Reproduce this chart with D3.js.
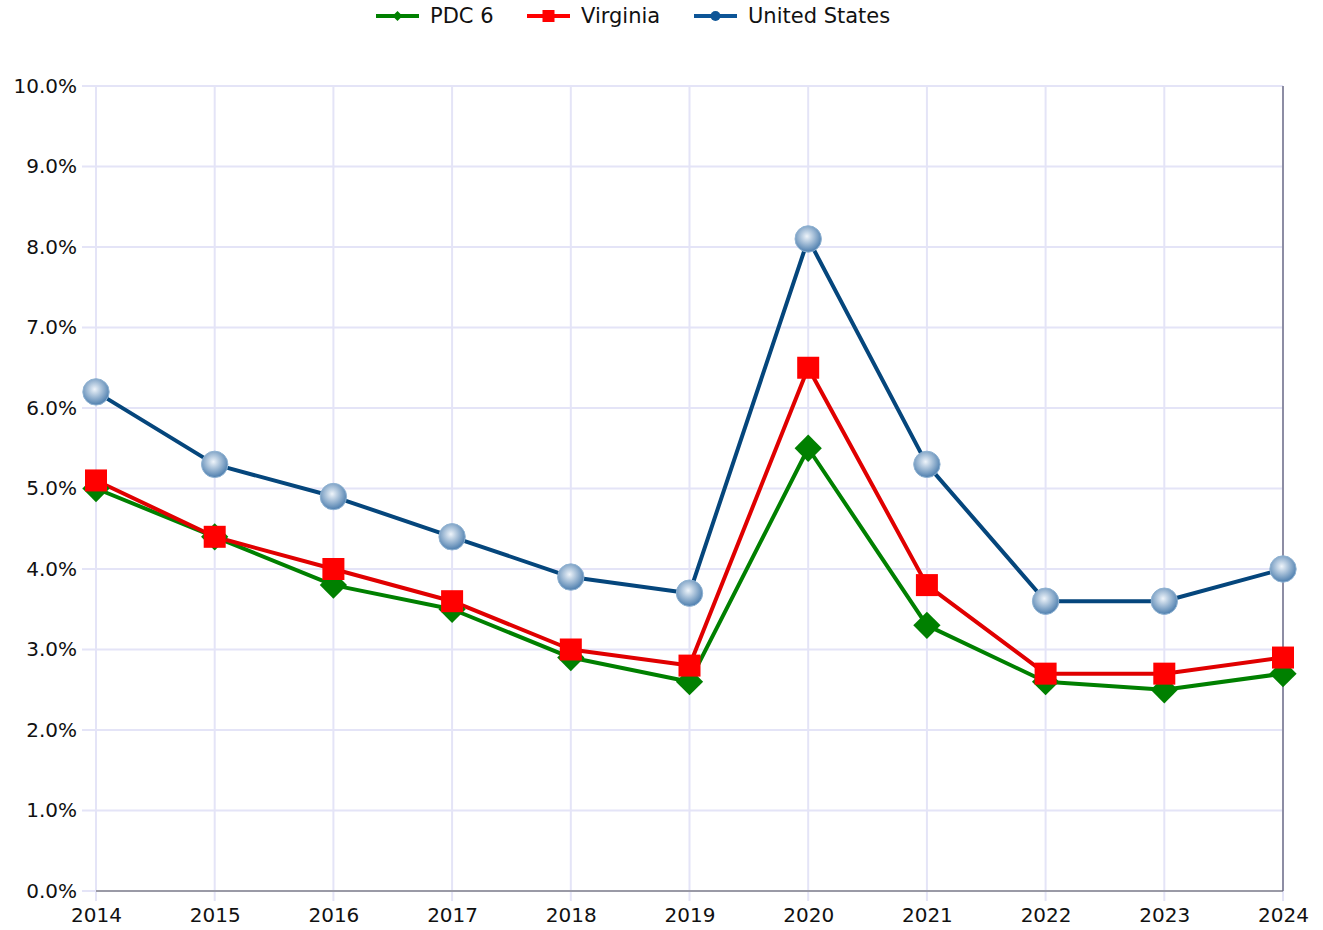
<!DOCTYPE html>
<html>
<head>
<meta charset="utf-8">
<script src="https://cdn.jsdelivr.net/npm/d3@7"></script>
<style>
  body { margin: 0; background: #fff; }
  svg text { font-family: "DejaVu Sans", Verdana, sans-serif; fill: #111; }
</style>
</head>
<body>
<svg id="chart" width="1323" height="930"></svg>
<script>
var years = [2014, 2015, 2016, 2017, 2018, 2019, 2020, 2021, 2022, 2023, 2024];
var pdc6 = [5.0, 4.4, 3.8, 3.5, 2.9, 2.6, 5.5, 3.3, 2.6, 2.5, 2.7];
var virginia = [5.1, 4.4, 4.0, 3.6, 3.0, 2.8, 6.5, 3.8, 2.7, 2.7, 2.9];
var unitedStates = [6.2, 5.3, 4.9, 4.4, 3.9, 3.7, 8.1, 5.3, 3.6, 3.6, 4.0];
var yTicks = [0, 1, 2, 3, 4, 5, 6, 7, 8, 9, 10];

var series = [
    { name: "PDC 6", values: pdc6, line: "#008000", fill: "#008000", shape: "diamond" },
    { name: "Virginia", values: virginia, line: "#e00000", fill: "#ff0000", shape: "square" },
    { name: "United States", values: unitedStates, line: "#05467c", fill: "url(#ball)", shape: "circle" }
];

var svg = d3.select("#chart");
var plotLeft = 96, plotRight = 1283, plotTop = 86, plotBottom = 891;

var x = d3.scaleLinear().domain([2014, 2024]).range([plotLeft, plotRight]);
var y = d3.scaleLinear().domain([0, 10]).range([plotBottom, plotTop]);

var defs = svg.append("defs");
var grad = defs.append("radialGradient").attr("id", "ball")
    .attr("cx", "45%").attr("cy", "40%").attr("r", "60%");
grad.append("stop").attr("offset", "0%").attr("stop-color", "#eef4fa");
grad.append("stop").attr("offset", "100%").attr("stop-color", "#4d7eae");

// grid
var grid = svg.append("g");
grid.selectAll(".hg").data(yTicks.slice(1)).enter().append("line")
    .attr("x1", plotLeft - 14).attr("x2", plotRight)
    .attr("y1", function(d) { return y(d); }).attr("y2", function(d) { return y(d); })
    .attr("stroke", "#e4e4f7").attr("stroke-width", 2);
grid.selectAll(".vg").data(years).enter().append("line")
    .attr("x1", function(d) { return x(d); }).attr("x2", function(d) { return x(d); })
    .attr("y1", plotTop).attr("y2", plotBottom + 10)
    .attr("stroke", "#e4e4f7").attr("stroke-width", 2);
grid.append("line").attr("x1", plotLeft - 14).attr("x2", plotLeft)
    .attr("y1", plotBottom).attr("y2", plotBottom).attr("stroke", "#e4e4f7").attr("stroke-width", 2);
grid.append("line").attr("x1", plotLeft).attr("x2", plotRight)
    .attr("y1", plotBottom).attr("y2", plotBottom).attr("stroke", "#9a9aa6").attr("stroke-width", 2);
grid.append("line").attr("x1", plotRight).attr("x2", plotRight)
    .attr("y1", plotTop).attr("y2", plotBottom).attr("stroke", "#5e5e78").attr("stroke-width", 1.3);

// axes labels
var yAxis = d3.axisLeft(y).tickValues(yTicks).tickSize(0).tickPadding(19)
    .tickFormat(function(d) { return d.toFixed(1) + "%"; });
svg.append("g").attr("transform", "translate(" + plotLeft + ",0)").call(yAxis)
    .call(function(g) { g.select(".domain").remove(); })
    .selectAll("text").style("font-size", "20px").attr("fill", "#111");

var xAxis = d3.axisBottom(x).tickValues(years).tickSize(0).tickPadding(17)
    .tickFormat(d3.format("d"));
svg.append("g").attr("transform", "translate(0," + plotBottom + ")").call(xAxis)
    .call(function(g) { g.select(".domain").remove(); })
    .selectAll("text").style("font-size", "20px").attr("fill", "#111");

function marker(sel, s, size) {
    if (s.shape === "circle") {
        sel.append("circle").attr("r", size * 0.6).attr("fill", s.fill)
            .attr("stroke", "#8fb2d2").attr("stroke-width", 1);
    } else if (s.shape === "square") {
        sel.append("rect").attr("x", -size / 2).attr("y", -size / 2)
            .attr("width", size).attr("height", size).attr("fill", s.fill);
    } else {
        var h = size * 0.62;
        sel.append("path").attr("d", "M0," + (-h) + "L" + h + ",0L0," + h + "L" + (-h) + ",0Z")
            .attr("fill", s.fill);
    }
}

var line = d3.line().x(function(d, i) { return x(years[i]); }).y(function(d) { return y(d); });

series.forEach(function(s) {
    svg.append("path").datum(s.values).attr("d", line)
        .attr("fill", "none").attr("stroke", s.line).attr("stroke-width", 4)
        .attr("stroke-linejoin", "round");
});
series.forEach(function(s) {
    s.values.forEach(function(v, i) {
        var g = svg.append("g").attr("transform", "translate(" + x(years[i]) + "," + y(v) + ")");
        marker(g, s, 22);
    });
});

// legend
var legendX = [376, 527, 694];
series.forEach(function(s, i) {
    var g = svg.append("g").attr("transform", "translate(" + legendX[i] + ",16)");
    g.append("line").attr("x1", 0).attr("x2", 43).attr("stroke",
        s.shape === "circle" ? "#0d5597" : (s.shape === "square" ? "#ff0000" : "#008000"))
        .attr("stroke-width", 4);
    var mg = g.append("g").attr("transform", "translate(21.5,0)");
    if (s.shape === "circle") {
        mg.append("circle").attr("r", 5).attr("fill", "#0d5597");
    } else if (s.shape === "square") {
        mg.append("rect").attr("x", -6).attr("y", -6).attr("width", 12).attr("height", 12).attr("fill", "#ff0000");
    } else {
        mg.append("path").attr("d", "M0,-5L5,0L0,5L-5,0Z").attr("fill", "#008000");
    }
    g.append("text").attr("x", 54).attr("y", 0).attr("dy", "0.35em")
        .style("font-size", "21px").text(s.name);
});
</script>
</body>
</html>
